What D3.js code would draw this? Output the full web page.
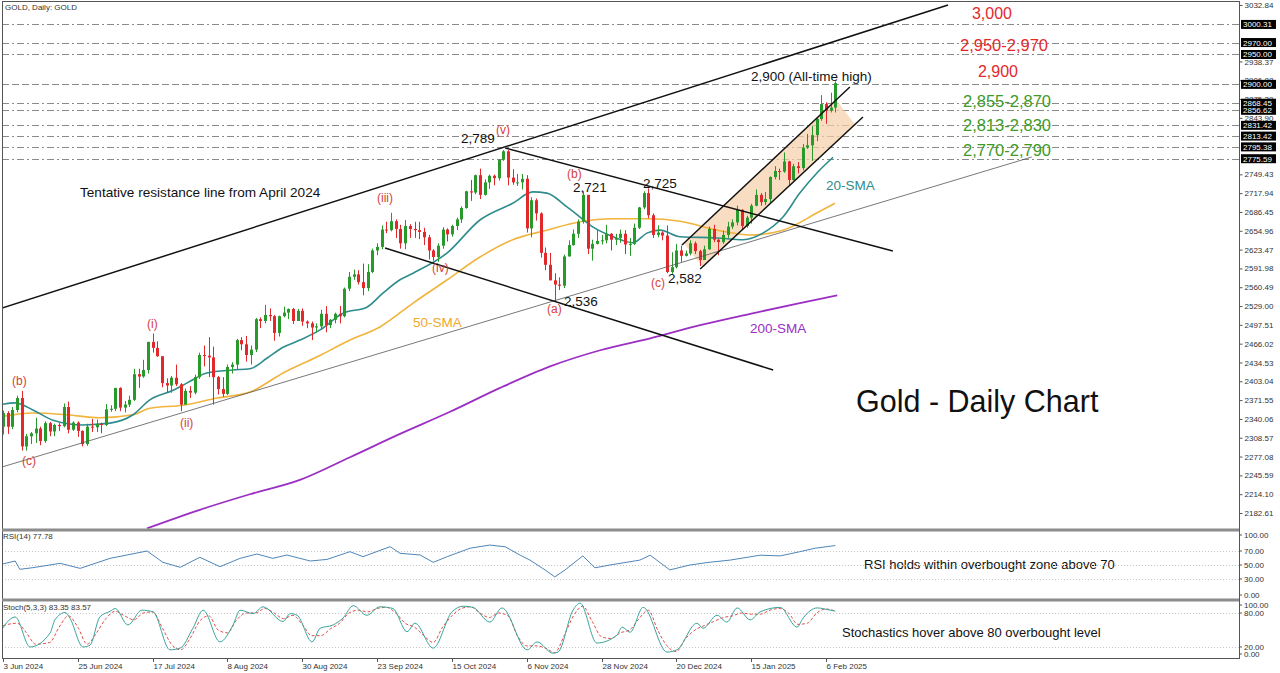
<!DOCTYPE html>
<html>
<head>
<meta charset="utf-8">
<script src="https://d3js.org/d3.v7.min.js"></script>
<style>
  body { margin: 0; background: #fff; }
  svg { display: block; font-family: "Liberation Sans", Arial, sans-serif; }
</style>
</head>
<body>
<div id="chart"></div>
<script>
// ---- data ----
// daily bars from 3 Jun 2024 to 10 Feb 2025
const opens = [2327,2350,2327,2355,2375,2294,2311,2316,2324,2303,
  2333,2319,2330,2328,2360,2322,2334,2320,2298,2327,
  2326,2332,2330,2356,2357,2392,2359,2364,2372,2415,
  2411,2422,2469,2459,2445,2400,2396,2409,2398,2364,
  2387,2384,2410,2447,2446,2443,2410,2390,2382,2427,
  2431,2472,2465,2447,2456,2507,2504,2514,2512,2484,
  2512,2518,2524,2504,2521,2503,2500,2493,2495,2516,
  2497,2506,2516,2512,2558,2578,2582,2569,2559,2586,
  2622,2628,2657,2656,2671,2658,2634,2663,2658,2656,
  2653,2644,2622,2611,2630,2657,2649,2663,2674,2693,
  2721,2719,2748,2715,2736,2747,2743,2774,2788,2744,
  2736,2736,2742,2659,2706,2684,2618,2598,2572,2565,
  2563,2612,2631,2650,2670,2715,2625,2633,2638,2639,
  2650,2640,2643,2650,2632,2633,2660,2694,2718,2681,
  2648,2652,2647,2586,2594,2622,2613,2617,2634,2621,
  2606,2624,2658,2640,2636,2648,2662,2669,2690,2663,
  2677,2697,2715,2703,2708,2745,2755,2754,2771,2740,
  2763,2760,2794,2798,2815,2842,2867,2856,2861];
const highs = [2354,2353,2360,2379,2387,2315,2318,2342,2327,2336,
  2335,2332,2333,2366,2369,2336,2336,2321,2332,2340,
  2339,2334,2365,2363,2392,2393,2370,2379,2424,2424,
  2439,2469,2483,2470,2445,2408,2412,2431,2400,2391,
  2395,2414,2451,2463,2477,2461,2412,2410,2431,2435,
  2474,2477,2479,2463,2509,2510,2531,2525,2514,2513,
  2528,2525,2526,2524,2525,2505,2503,2500,2523,2529,
  2507,2518,2529,2560,2586,2590,2589,2600,2599,2625,
  2634,2664,2670,2685,2674,2665,2673,2666,2670,2670,
  2660,2648,2624,2634,2661,2659,2665,2677,2696,2722,
  2740,2749,2759,2741,2749,2749,2775,2790,2790,2758,
  2750,2750,2748,2711,2709,2686,2627,2618,2584,2577,
  2615,2639,2657,2674,2721,2715,2640,2657,2648,2665,
  2651,2650,2657,2656,2643,2667,2695,2721,2726,2684,
  2664,2654,2664,2619,2633,2630,2622,2639,2637,2623,
  2630,2662,2665,2641,2655,2670,2674,2697,2691,2680,
  2700,2724,2718,2720,2746,2763,2759,2786,2772,2767,
  2770,2800,2817,2830,2845,2882,2870,2886,2905];
const lows = [2314,2315,2323,2351,2287,2287,2298,2300,2296,2300,
  2311,2311,2320,2326,2316,2320,2310,2294,2295,2318,
  2318,2316,2328,2352,2353,2353,2351,2360,2370,2392,
  2409,2416,2451,2444,2393,2385,2384,2395,2353,2364,
  2375,2381,2407,2428,2410,2364,2381,2377,2380,2416,
  2423,2455,2436,2431,2452,2492,2500,2504,2471,2478,
  2510,2507,2499,2504,2496,2492,2472,2485,2491,2485,
  2492,2500,2500,2510,2554,2573,2565,2547,2554,2584,
  2614,2624,2651,2654,2643,2625,2624,2643,2643,2641,
  2631,2607,2605,2603,2625,2637,2645,2656,2668,2692,
  2705,2716,2708,2714,2725,2731,2739,2772,2731,2732,
  2730,2724,2652,2644,2672,2610,2589,2572,2536,2556,
  2559,2612,2630,2643,2667,2616,2605,2632,2632,2634,
  2622,2631,2635,2616,2613,2631,2658,2691,2676,2643,
  2644,2639,2584,2583,2592,2603,2612,2614,2616,2596,
  2606,2623,2636,2614,2633,2643,2658,2664,2657,2660,
  2667,2696,2697,2698,2702,2741,2740,2752,2730,2739,
  2751,2756,2792,2772,2805,2839,2834,2853,2853];
const closes = [2350,2327,2355,2375,2294,2311,2316,2324,2303,2333,
  2319,2330,2328,2360,2322,2334,2320,2298,2327,2326,
  2332,2330,2356,2357,2392,2359,2364,2372,2415,2411,
  2422,2469,2459,2445,2400,2396,2409,2398,2364,2387,
  2384,2410,2447,2446,2443,2410,2390,2382,2427,2431,
  2472,2465,2447,2456,2507,2504,2514,2512,2484,2512,
  2518,2524,2504,2521,2503,2500,2493,2495,2516,2497,
  2506,2516,2512,2558,2578,2582,2569,2559,2586,2622,
  2628,2657,2656,2671,2658,2634,2663,2658,2656,2653,
  2644,2622,2611,2630,2657,2649,2663,2674,2693,2721,
  2719,2748,2715,2736,2747,2743,2774,2788,2744,2736,
  2736,2742,2659,2706,2684,2618,2598,2572,2565,2563,
  2612,2631,2650,2670,2715,2625,2633,2638,2639,2650,
  2640,2643,2650,2632,2633,2660,2694,2718,2681,2648,
  2652,2647,2586,2594,2622,2613,2617,2634,2621,2606,
  2624,2658,2640,2636,2648,2662,2669,2690,2663,2677,
  2697,2715,2703,2708,2745,2755,2754,2771,2740,2763,
  2760,2794,2798,2815,2842,2867,2856,2861,2902];

// moving averages as [bar, price]
const sma20 = [[-1,2363],[2.6,2367],[6.4,2355],[10.7,2338],[17.1,2330],[22.9,2333],[27.8,2347],
  [31.4,2372],[36.4,2388],[39.3,2400],[43.6,2417],[49.2,2422],[52.8,2424],[56.5,2442],[59.9,2460],
  [63.5,2472],[67.8,2489],[72.7,2517],[77.8,2527],[81.3,2551],[84.9,2573],[87.7,2584],[95,2618],
  [102,2673],[109,2701],[113.3,2720],[116.3,2718],[120.6,2695],[123.4,2678],[126.2,2661],[130.5,2645],
  [134.7,2635],[137.7,2651],[140.5,2656],[144.8,2645],[152.7,2643],[158.3,2640],[162.5,2651],
  [166.8,2678],[170.4,2718],[174.1,2752],[177.5,2778]];
const sma50 = [[-1,2343],[6.4,2350],[13.7,2347],[20.7,2342],[27.8,2347],[31.4,2358],[38.5,2363],
  [45.8,2375],[52.8,2385],[59.9,2417],[67.2,2444],[74.2,2472],[80.6,2494],[87.7,2534],[95,2573],
  [102,2611],[109,2640],[116.3,2656],[123.4,2670],[130.5,2675],[137.7,2675],[144.8,2671],
  [152.7,2656],[159.8,2648],[166.8,2656],[174.1,2685],[177.9,2701]];
const sma200 = [[30.8,2157],[42.1,2188],[52.8,2214],[63.5,2238],[74.2,2276],[84.9,2315],[95.6,2352],
  [106.3,2392],[117,2428],[127.7,2455],[138.4,2475],[149.1,2497],[159.8,2516],[170.4,2534],[178.4,2547]];

// RSI(14) as [bar, value]
const rsi = [[-1,50],[2.6,55.7],[3.6,43.8],[6.4,46.2],[12.2,52.4],[16.5,45.2],[22.9,59.5],[30.8,70],
  [34.2,53.8],[37.9,46.7],[42.1,61],[46.4,47.6],[50.7,59.5],[54.3,65.7],[57.7,59.5],[60.7,64.3],
  [65.7,55.7],[69.3,58],[74.2,69],[77,61.9],[82.8,76.2],[84.9,66.7],[89.2,64.3],[92,53.8],[95,61.9],
  [99.9,74],[104.1,78.5],[107.4,76],[110.6,64],[112.7,57],[115.9,43],[118,33],[120.2,43],[124,63],
  [126.6,46],[129.8,50],[136.2,57],[138.4,64],[142.6,43],[146.9,50],[151.2,54],[155.5,57],
  [161.9,64],[166.2,63],[170.4,69],[173.7,74],[178,77.78]];

// Stochastic(5,3,3): main and signal as [bar, value]
const stochMain = [[-1,41],[2.6,73],[5.8,20],[10.1,45],[11.1,68],[13.3,81],[14.3,71],[17.1,20],[18.6,23],
  [20.7,73],[22.9,83],[24,88],[26.7,59],[29.7,85],[32.1,82],[35.7,15],[37.9,18],[40.6,53],[42.8,85],
  [46.4,29],[49.2,59],[50.7,85],[53.5,79],[55.6,91],[59.9,65],[61.4,79],[62.9,76],[66.1,29],[67.8,53],
  [70.6,59],[72.7,71],[74.9,93],[77.8,76],[80.6,91],[83.4,88],[86.4,47],[88.1,62],[92,18],[96,82],
  [98.4,92],[100.5,90],[104.1,64],[106.7,89],[112.1,15],[114.2,29],[117.6,9],[118.7,11],[121.9,85],
  [123.4,97.5],[127,27],[131.3,41],[132.4,55],[134.1,46],[136.9,90],[142,11],[144.1,15],[148.4,62],
  [149.7,53],[152.7,76],[154.8,64],[157,89],[159.8,68],[161.9,82],[166.2,90],[169.8,55],[171.1,71],
  [174.1,89],[176.9,85],[178,83.35]];
const stochSignal = [[-1,55],[3,62],[5,45],[7,25],[10,28],[12,55],[14,75],[16,55],[18,25],[20,45],
  [22,70],[24,83],[26,75],[28,68],[30,80],[32,82],[34,55],[36,25],[38,15],[40,35],[42,65],[44,75],
  [46,50],[48,45],[50,68],[52,80],[54,80],[56,88],[58,80],[60,70],[62,76],[64,60],[66,40],[68,40],
  [70,52],[72,62],[74,80],[76,85],[78,82],[80,88],[82,90],[84,80],[86,62],[88,55],[90,40],[92,28],
  [94,55],[96,75],[98,88],[100,91],[102,80],[104,72],[106,80],[108,75],[110,40],[112,22],[114,22],
  [116,18],[118,10],[120,40],[122,75],[124,92],[126,65],[128,38],[130,35],[132,45],[134,50],[136,70],
  [138,85],[140,50],[142,22],[144,12],[146,35],[148,50],[150,58],[152,65],[154,72],[156,75],[158,80],
  [160,78],[162,78],[164,85],[166,88],[168,80],[170,60],[172,62],[174,80],[176,87],[178,83.57]];

// x axis labels, one every 16 bars
const dateLabels = ["3 Jun 2024","25 Jun 2024","17 Jul 2024","8 Aug 2024","30 Aug 2024","23 Sep 2024",
  "15 Oct 2024","6 Nov 2024","28 Nov 2024","20 Dec 2024","15 Jan 2025","6 Feb 2025"];
const priceTicks = [3032.84,3001.35,2969.86,2938.37,2906.88,2875.39,2843.90,2812.41,2780.92,2749.43,
  2717.94,2686.45,2654.96,2623.47,2591.98,2560.49,2529.00,2497.51,2466.02,2434.53,2403.04,2371.55,
  2340.06,2308.57,2277.08,2245.59,2214.10,2182.61];
const levels = [3000.31,2970.00,2950.00,2900.00,2868.45,2856.62,2831.42,2813.42,2795.38,2775.59];
const rsiTicks = [100,70,50,30,0];
const stochTicks = [100,80,20,0];

// trend lines as [bar1, price1, bar2, price2]
const resistLine = [-0.2, 2525.7, 202.1, 3032.8];
const supportLine = [-0.2, 2259.6, 220, 2778.4];
const descUpper = [107.4, 2793.5, 190.3, 2621.1];
const descLower = [81.7, 2626.1, 164.7, 2421.9];
const riseUpper = [145.2, 2631.2, 181.1, 2895.6];
const riseLower = [149.1, 2591.0, 183.9, 2845.4];

// ---- layout ----
const W = 1280, H = 673;
const left = 2, right = 1239;
const green = "#28992b", red = "#e3282b";

const svg = d3.select("#chart").append("svg").attr("width", W).attr("height", H);

const x = d3.scaleLinear().domain([0, 176]).range([3, 826]);
const y = d3.scaleLinear().domain([2182.61, 3032.84]).range([513, 5]);
const yR = d3.scaleLinear().domain([0, 100]).range([600, 530]);
const yS = d3.scaleLinear().domain([0, 100]).range([658.3, 601.7]);

// clip regions for the three panels
const defs = svg.append("defs");
[["clipMain", 2, 529], ["clipRsi", 531, 599], ["clipSto", 602, 657]].forEach(function(c) {
  defs.append("clipPath").attr("id", c[0]).append("rect")
    .attr("x", left + 1).attr("y", c[1]).attr("width", right - left - 1).attr("height", c[2] - c[1]);
});

const main = svg.append("g").attr("clip-path", "url(#clipMain)");

// horizontal levels
main.selectAll(".lvl").data(levels).enter().append("line")
  .attr("x1", left).attr("x2", right)
  .attr("y1", d => Math.round(y(d)) + 0.5).attr("y2", d => Math.round(y(d)) + 0.5)
  .attr("stroke", "#8a8a8a").attr("stroke-width", 1)
  .attr("stroke-dasharray", d => d === 2900 ? "7,3" : "7,3,2,3");

// channel fill
function onLine(l, b) { return l[1] + (l[3] - l[1]) * (b - l[0]) / (l[2] - l[0]); }
const fillPts = [[145.6, onLine(riseUpper, 145.6)], [178.2, onLine(riseUpper, 178.2)],
  [182.2, onLine(riseLower, 182.2)], [149.6, onLine(riseLower, 149.6)]];
main.append("path")
  .attr("d", "M" + fillPts.map(p => x(p[0]) + "," + y(p[1])).join("L") + "Z")
  .attr("fill", "#f6cfa8").attr("opacity", 0.7);

// moving averages
const maLine = d3.line().x(d => x(d[0])).y(d => y(d[1])).curve(d3.curveMonotoneX);
[[sma200, "#9b2fc4", 1.8], [sma50, "#f1b43c", 1.6], [sma20, "#2f8c8c", 1.6]].forEach(function(m) {
  main.append("path").attr("d", maLine(m[0])).attr("fill", "none")
    .attr("stroke", m[1]).attr("stroke-width", m[2]);
});

// candles
const bars = d3.range(closes.length);
const cx = i => Math.round(x(i)) + 0.5;
const col = i => closes[i] >= opens[i] ? green : red;
main.selectAll(".wick").data(bars).enter().append("line")
  .attr("x1", cx).attr("x2", cx)
  .attr("y1", i => y(highs[i])).attr("y2", i => y(lows[i]))
  .attr("stroke", col).attr("stroke-width", 1);
main.selectAll(".body").data(bars).enter().append("rect")
  .attr("x", i => cx(i) - 1.5).attr("width", 3)
  .attr("y", i => y(Math.max(opens[i], closes[i])))
  .attr("height", i => Math.max(1, Math.abs(y(opens[i]) - y(closes[i]))))
  .attr("fill", col);

// trend lines
[[resistLine, 1.5, "#111"], [supportLine, 0.8, "#555"], [descUpper, 1.5, "#111"], [descLower, 1.5, "#111"],
 [riseUpper, 1.5, "#111"], [riseLower, 1.5, "#111"]].forEach(function(t) {
  const l = t[0];
  main.append("line")
    .attr("x1", x(l[0])).attr("y1", y(l[1])).attr("x2", x(l[2])).attr("y2", y(l[3]))
    .attr("stroke", t[2]).attr("stroke-width", t[1]);
});

// annotations
function label(txt, px, py, color, size, anchor) {
  svg.append("text").attr("x", px).attr("y", py).attr("fill", color)
    .attr("font-size", size).attr("text-anchor", anchor || "start").text(txt);
}
const waveRed = "#d5413c";
label("Tentative resistance line from April 2024", 80, 197, "#111", 13.6);
label("2,789", 461, 143, "#111", 13.5);
label("(v)", 496, 134, waveRed, 12);
label("(iii)", 377, 202, waveRed, 12);
label("(iv)", 432, 272, waveRed, 12);
label("(b)", 567, 178, waveRed, 12);
label("2,721", 573, 192, "#111", 13.5);
label("2,725", 643, 188, "#111", 13.5);
label("2,536", 564, 306, "#111", 13.5);
label("(a)", 547, 313, waveRed, 12);
label("(c)", 651, 287, waveRed, 12);
label("2,582", 668, 283, "#111", 13.5);
label("2,900 (All-time high)", 751, 81, "#111", 13.5);
label("20-SMA", 826, 190, "#2f8c8c", 13.5);
label("50-SMA", 413, 327, "#f0a830", 13.5);
label("200-SMA", 750, 333, "#9b2fc4", 13.5);
label("(i)", 147, 328, waveRed, 12);
label("(ii)", 180, 427, waveRed, 12);
label("(b)", 12, 385, waveRed, 12);
label("(c)", 22, 465, waveRed, 12);

label("3,000", 992, 19, "#e3282b", 16, "middle");
label("2,950-2,970", 1004, 51, "#e3282b", 16.5, "middle");
label("2,900", 998, 77, "#e3282b", 16, "middle");
label("2,855-2,870", 1007, 107, "#3d9a27", 16.5, "middle");
label("2,813-2,830", 1007, 131, "#3d9a27", 16.5, "middle");
label("2,770-2,790", 1007, 156, "#3d9a27", 16.5, "middle");
label("Gold - Daily Chart", 856, 412, "#111", 30.5);
label("RSI holds within overbought zone above 70", 864, 569, "#111", 13);
label("Stochastics hover above 80 overbought level", 842, 637, "#111", 13);

// ---- RSI panel ----
const rsiG = svg.append("g").attr("clip-path", "url(#clipRsi)");
rsiG.selectAll(".rl").data([70, 50, 30]).enter().append("line")
  .attr("x1", left).attr("x2", right).attr("y1", d => Math.round(yR(d)) + 0.5).attr("y2", d => Math.round(yR(d)) + 0.5)
  .attr("stroke", "#c8c8c8").attr("stroke-dasharray", "1,2");
rsiG.append("path")
  .attr("d", d3.line().x(d => x(d[0])).y(d => yR(d[1]))(rsi))
  .attr("fill", "none").attr("stroke", "#4f86b8").attr("stroke-width", 1);

// ---- Stochastic panel ----
const stoG = svg.append("g").attr("clip-path", "url(#clipSto)");
stoG.selectAll(".sl").data([80, 20]).enter().append("line")
  .attr("x1", left).attr("x2", right).attr("y1", d => Math.round(yS(d)) + 0.5).attr("y2", d => Math.round(yS(d)) + 0.5)
  .attr("stroke", "#c8c8c8").attr("stroke-dasharray", "1,2");
const stLine = d3.line().x(d => x(d[0])).y(d => yS(d[1])).curve(d3.curveMonotoneX);
stoG.append("path").attr("d", stLine(stochSignal)).attr("fill", "none")
  .attr("stroke", "#e0504a").attr("stroke-width", 1).attr("stroke-dasharray", "3,2");
stoG.append("path").attr("d", stLine(stochMain)).attr("fill", "none")
  .attr("stroke", "#3aa49c").attr("stroke-width", 1);

// ---- frame, separators, axes ----
svg.append("rect").attr("x", left + 0.5).attr("y", 1.5).attr("width", right - left).attr("height", 657)
  .attr("fill", "none").attr("stroke", "#555");
[530, 600].forEach(function(sy) {
  svg.append("line").attr("x1", left).attr("x2", right).attr("y1", sy).attr("y2", sy)
    .attr("stroke", "#8c8c8c").attr("stroke-width", 3);
});

// price ticks hidden behind the level tags are left out
const shownTicks = priceTicks.filter(t => levels.every(l => Math.abs(y(t) - y(l)) > 3.5));
const yAxis = svg.append("g").attr("transform", "translate(" + (right + 0.5) + ",0)")
  .call(d3.axisRight(y).tickValues(shownTicks).tickFormat(d3.format(".2f")).tickSize(3).tickPadding(2));
yAxis.select(".domain").remove();
yAxis.selectAll("text").attr("font-size", 8).attr("fill", "#333").attr("font-family", "Liberation Sans, Arial");
yAxis.selectAll("line").attr("stroke", "#555");

// highlighted level prices on the axis
const tags = svg.append("g");
tags.selectAll("rect").data(levels).enter().append("rect")
  .attr("x", right + 2).attr("y", d => y(d) - 4.5).attr("width", 35).attr("height", 9).attr("fill", "#000");
tags.selectAll("text").data(levels).enter().append("text")
  .attr("x", right + 4).attr("y", d => y(d) + 3).attr("font-size", 8).attr("fill", "#fff")
  .text(d => d3.format(".2f")(d));

// indicator axes
function sideLabels(ticks, sc, top, bottom) {
  ticks.forEach(function(v) {
    const ty = Math.min(Math.max(sc(v), top), bottom);
    svg.append("line").attr("x1", right).attr("x2", right + 3).attr("y1", ty).attr("y2", ty).attr("stroke", "#555");
    svg.append("text").attr("x", right + 5).attr("y", ty + 3).attr("font-size", 8).attr("fill", "#333")
      .text(d3.format(".2f")(v));
  });
}
sideLabels(rsiTicks, yR, 535, 595);
sideLabels(stochTicks, yS, 605, 654);

// date axis
const dateG = svg.append("g");
dateLabels.forEach(function(d, k) {
  const tx = Math.round(x(k * 16)) + 0.5;
  dateG.append("line").attr("x1", tx).attr("x2", tx).attr("y1", 658).attr("y2", 662).attr("stroke", "#555");
  dateG.append("text").attr("x", tx).attr("y", 669).attr("font-size", 8).attr("fill", "#333").text(d);
});

// panel headers
label("GOLD, Daily:  GOLD", 5, 10, "#333", 8);
label("RSI(14) 77.78", 3, 539, "#333", 8);
label("Stoch(5,3,3) 83.35 83.57", 3, 610, "#333", 8);
</script>
</body>
</html>
